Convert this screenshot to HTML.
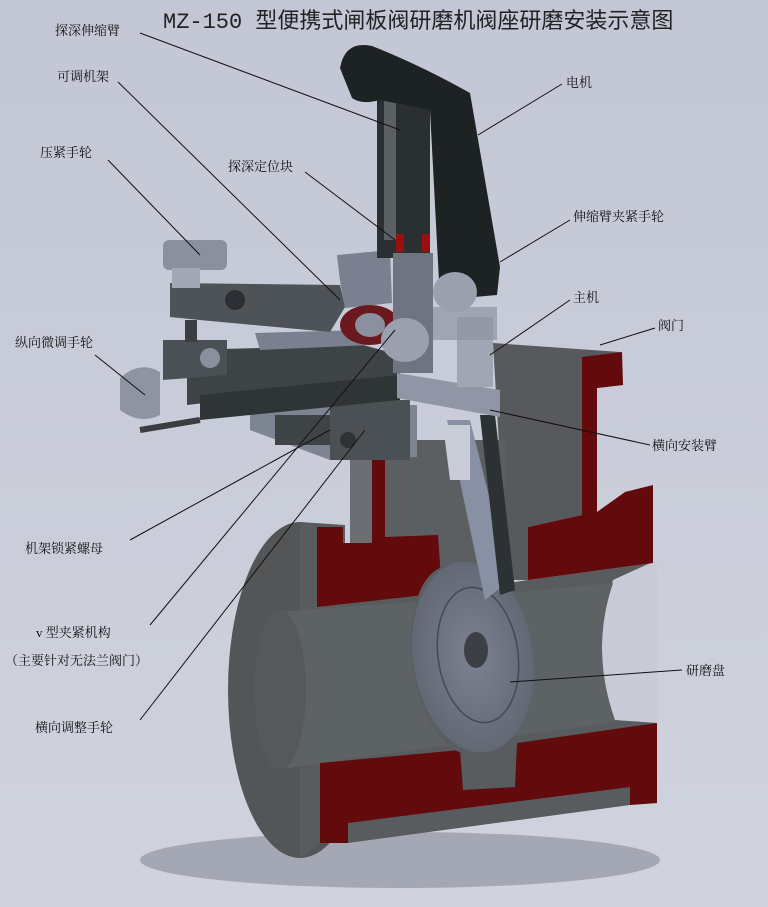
<!DOCTYPE html>
<html><head><meta charset="utf-8">
<style>
html,body{margin:0;padding:0;}
body{width:768px;height:907px;overflow:hidden;background:#c8ccd8;}
svg{display:block;}
text{font-family:"Liberation Serif","Noto Serif CJK SC",serif;font-size:13px;fill:#111;}
.t{font-family:"Liberation Mono","Noto Sans CJK SC",sans-serif;font-size:22px;fill:#222;}
</style></head><body>
<svg width="768" height="907" viewBox="0 0 768 907" xmlns="http://www.w3.org/2000/svg">
<defs>
<linearGradient id="bg" x1="0" y1="0" x2="0" y2="1">
<stop offset="0" stop-color="#c3c7d5"/><stop offset="1" stop-color="#d0d3dd"/></linearGradient>
<radialGradient id="disc" cx="0.5" cy="0.5" r="0.5">
<stop offset="0" stop-color="#7c8292"/><stop offset="1" stop-color="#626874"/></radialGradient>
</defs>
<rect width="768" height="907" fill="url(#bg)"/>
<!-- shadow -->
<ellipse cx="400" cy="860" rx="260" ry="28" fill="#a4a8b4"/>
<!-- upper bonnet -->
<path d="M493 343 L620 352 L623 385 L597 388 L597 512 L582 515 L528 527 L528 580 L507 580 Z" fill="#57595c"/>
<!-- left cylinder face -->
<ellipse cx="300" cy="690" rx="72" ry="168" fill="#535557"/>
<!-- main body -->
<path d="M300 522 L345 525 L345 600 L440 593 L528 580 L653 563 L657 803 L630 805 L348 843 L320 843 L300 858 Z" fill="#585c5e"/>
<!-- concave right cutout -->
<path d="M657 560 L613 580 Q590 650 615 720 L657 723 Z" fill="#c8cbd6"/>
<!-- bore -->
<path d="M277 612 L440 600 L613 583 Q590 650 615 722 L320 763 L277 770 Z" fill="#5d6264"/>
<ellipse cx="280" cy="690" rx="26" ry="80" fill="#56595b"/>
<!-- pillar -->
<rect x="350" y="460" width="22" height="83" fill="#6b6e72"/>
<rect x="385" y="440" width="120" height="150" fill="#5b5f62"/>
<!-- red sections -->
<path d="M317 527 L343 527 L343 543 L372 543 L372 457 L385 457 L385 537 L438 535 L442 593 L317 607 Z" fill="#620a0c"/>
<path d="M582 357 L622 352 L623 385 L597 388 L597 512 L625 492 L653 485 L653 563 L528 580 L528 527 L582 515 Z" fill="#620a0c"/>
<path d="M320 763 L460 750 L463 790 L515 787 L517 743 L657 723 L657 803 L630 805 L630 787 L348 823 L348 843 L320 843 Z" fill="#620a0c"/>
<!-- disc -->
<ellipse cx="460" cy="660" rx="48" ry="95" fill="#5a5e62" transform="rotate(-8 460 660)"/>
<ellipse cx="473" cy="657" rx="60" ry="96" fill="url(#disc)" transform="rotate(-8 473 657)"/>
<ellipse cx="478" cy="655" rx="40" ry="68" fill="none" stroke="#444a50" stroke-width="1.5" transform="rotate(-8 478 655)"/>
<ellipse cx="476" cy="650" rx="12" ry="18" fill="#3c4046"/>
<!-- main arm -->
<path d="M447 420 L470 420 L510 580 L485 600 Z" fill="#8890a4"/>
<path d="M480 415 L495 415 L515 590 L500 595 Z" fill="#2c3234"/>
<path d="M443 425 L470 425 L470 480 L450 480 Z" fill="#c8ccd6"/>
<!-- lower bracket -->
<path d="M250 405 L417 405 L417 457 L330 460 L250 430 Z" fill="#7d8492"/>
<rect x="275" y="415" width="70" height="30" fill="#3e4446"/>
<rect x="330" y="400" width="80" height="60" fill="#4a5054"/>
<circle cx="348" cy="440" r="8" fill="#2e3234"/>
<!-- frame / rails -->
<path d="M187 350 L363 345 L400 355 L400 380 L187 405 Z" fill="#3e4446"/>
<path d="M255 333 L360 330 L370 345 L260 350 Z" fill="#7a8090"/>
<path d="M200 395 L400 375 L400 400 L200 420 Z" fill="#2f3436"/>
<path d="M163 340 L227 340 L227 375 L163 380 Z" fill="#4a5054"/>
<circle cx="210" cy="358" r="10" fill="#8a909e"/>
<path d="M120 378 Q140 360 160 372 L160 415 Q140 425 120 410 Z" fill="#8e94a2"/>
<line x1="140" y1="430" x2="200" y2="420" stroke="#3a3e40" stroke-width="6"/>
<!-- cross arm -->
<path d="M397 373 L500 390 L500 417 L397 398 Z" fill="#9096a6"/>
<!-- clamp arm -->
<path d="M170 283 L340 285 L345 307 L330 332 L200 320 L170 317 Z" fill="#4d5356"/>
<circle cx="235" cy="300" r="10" fill="#2c3034"/>
<rect x="163" y="240" width="64" height="30" rx="6" fill="#8a909e"/>
<rect x="172" y="268" width="28" height="20" fill="#a2a8b4"/>
<rect x="185" y="320" width="12" height="22" fill="#3a3e40"/>
<!-- saddle -->
<path d="M337 255 L390 250 L392 303 L345 308 Q340 285 337 255 Z" fill="#7a8090"/>
<ellipse cx="370" cy="325" rx="30" ry="20" fill="#6a1a1e"/>
<ellipse cx="370" cy="325" rx="15" ry="12" fill="#8a909e"/>
<!-- probe & motor -->
<rect x="377" y="93" width="53" height="165" fill="#2a3032"/>
<rect x="384" y="100" width="12" height="140" fill="#5a6064"/>
<rect x="396" y="234" width="8" height="18" fill="#9a1010"/>
<rect x="422" y="234" width="8" height="18" fill="#9a1010"/>
<path d="M340 68 Q345 40 372 46 Q420 65 470 93 L500 267 L497 295 L440 300 L430 110 L380 100 Q362 105 352 98 Z" fill="#1d2223"/>
<rect x="393" y="253" width="40" height="120" fill="#6e7480"/>
<rect x="457" y="317" width="36" height="70" fill="#a0a6b4"/>
<path d="M433 307 L497 307 L497 340 L433 340 Z" fill="#8e94a2" opacity="0.7"/>
<ellipse cx="455" cy="292" rx="22" ry="20" fill="#9aa0ae"/>
<ellipse cx="405" cy="340" rx="24" ry="22" fill="#9aa0ae"/>
<!-- title -->
<text class="t" x="163" y="28">MZ-150 型便携式闸板阀研磨机阀座研磨安装示意图</text>
<!-- leader lines -->
<g stroke="#111" stroke-width="1">
<line x1="140" y1="33" x2="400" y2="130"/>
<line x1="118" y1="82" x2="340" y2="300"/>
<line x1="108" y1="160" x2="200" y2="255"/>
<line x1="305" y1="172" x2="395" y2="240"/>
<line x1="562" y1="84" x2="478" y2="135"/>
<line x1="570" y1="220" x2="500" y2="262"/>
<line x1="570" y1="300" x2="490" y2="355"/>
<line x1="655" y1="328" x2="600" y2="345"/>
<line x1="95" y1="355" x2="145" y2="395"/>
<line x1="650" y1="445" x2="490" y2="410"/>
<line x1="130" y1="540" x2="330" y2="430"/>
<line x1="150" y1="625" x2="395" y2="330"/>
<line x1="140" y1="720" x2="365" y2="430"/>
<line x1="682" y1="670" x2="510" y2="682"/>
</g>
<!-- labels -->
<text x="55" y="35">探深伸缩臂</text>
<text x="57" y="81">可调机架</text>
<text x="40" y="157">压紧手轮</text>
<text x="228" y="171">探深定位块</text>
<text x="566" y="87">电机</text>
<text x="573" y="221">伸缩臂夹紧手轮</text>
<text x="573" y="302">主机</text>
<text x="658" y="330">阀门</text>
<text x="15" y="347">纵向微调手轮</text>
<text x="652" y="450">横向安装臂</text>
<text x="25" y="553">机架锁紧螺母</text>
<text x="36" y="637">v 型夹紧机构</text>
<text x="5" y="665">（主要针对无法兰阀门）</text>
<text x="35" y="732">横向调整手轮</text>
<text x="686" y="675">研磨盘</text>
</svg>
</body></html>
